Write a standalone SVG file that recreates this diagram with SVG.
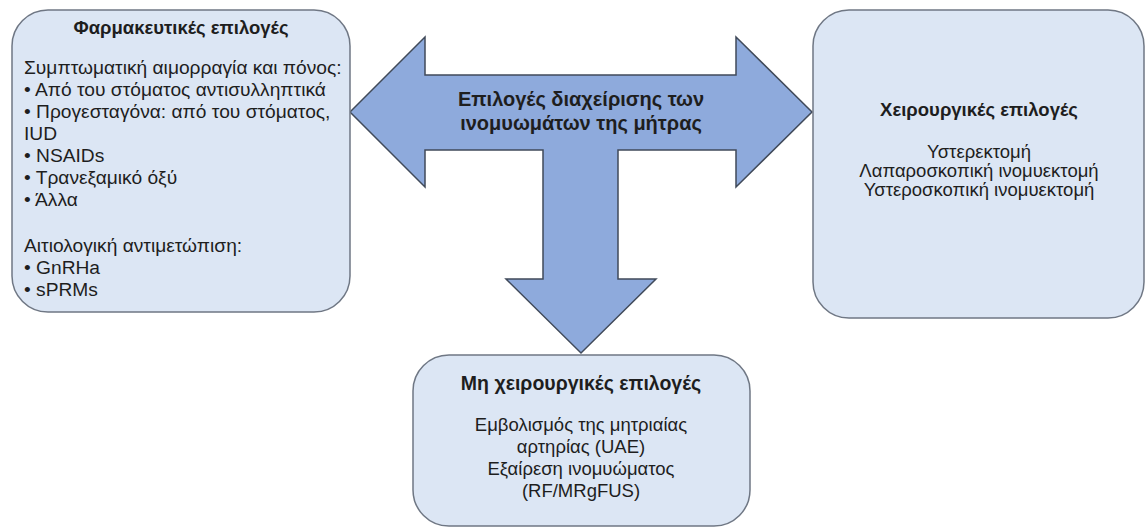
<svg xmlns="http://www.w3.org/2000/svg" width="1146" height="528" viewBox="0 0 1146 528">
<style>
.box{fill:#dce6f4;stroke:#6f7784;stroke-width:1.5}
.arrow{fill:#8eaadc;stroke:#404a5a;stroke-width:1.5;stroke-linejoin:miter}
text{font-family:"Liberation Sans",Arial,sans-serif;fill:#1e1e1e}
.t{font-weight:bold;font-size:18.5px}
.b{font-size:18.5px}
.l{font-size:19.2px}
.c{text-anchor:middle}
</style>
<rect width="1146" height="528" fill="#ffffff"/>
<g id="connectors">
<path class="arrow" d="M350,112 L425,37 L425,75 L736,75 L736,37 L812,112 L736,187 L736,150 L618,150 L618,279 L656,279 L581,353 L506,279 L543,279 L543,150 L425,150 L425,187 Z"/>
</g>
<g id="center">
<text class="t c" x="581" y="106" style="font-size:20px">Επιλογές διαχείρισης των</text>
<text class="t c" x="581" y="130" style="font-size:20px">ινομυωμάτων της μήτρας</text>
</g>
<g id="pharma">
<rect class="box" x="12" y="10" width="338" height="302" rx="36"/>
<text class="t c" x="181" y="34">Φαρμακευτικές επιλογές</text>
<text class="l" x="24" y="74">Συμπτωματική αιμορραγία και πόνος:</text>
<text class="l" x="24" y="96">• Από του στόματος αντισυλληπτικά</text>
<text class="l" x="24" y="118">• Προγεσταγόνα: από του στόματος,</text>
<text class="l" x="24" y="140">IUD</text>
<text class="l" x="24" y="162">• NSAIDs</text>
<text class="l" x="24" y="184">• Τρανεξαμικό όξύ</text>
<text class="l" x="24" y="206">• Άλλα</text>
<text class="l" x="24" y="252">Αιτιολογική αντιμετώπιση:</text>
<text class="l" x="24" y="274">• GnRHa</text>
<text class="l" x="24" y="296">• sPRMs</text>
</g>
<g id="surgical">
<rect class="box" x="813" y="10" width="331" height="308" rx="36"/>
<text class="t c" x="979" y="116">Χειρουργικές επιλογές</text>
<text class="b c" x="979" y="158">Υστερεκτομή</text>
<text class="b c" x="979" y="177">Λαπαροσκοπική ινομυεκτομή</text>
<text class="b c" x="979" y="196">Υστεροσκοπική ινομυεκτομή</text>
</g>
<g id="nonsurgical">
<rect class="box" x="413" y="355" width="337" height="171" rx="36"/>
<text class="t c" x="581" y="390" style="font-size:19.5px">Μη χειρουργικές επιλογές</text>
<text class="b c" x="581" y="431">Εμβολισμός της μητριαίας</text>
<text class="b c" x="581" y="453">αρτηρίας (UAE)</text>
<text class="b c" x="581" y="475">Εξαίρεση ινομυώματος</text>
<text class="b c" x="581" y="497">(RF/MRgFUS)</text>
</g>
</svg>
